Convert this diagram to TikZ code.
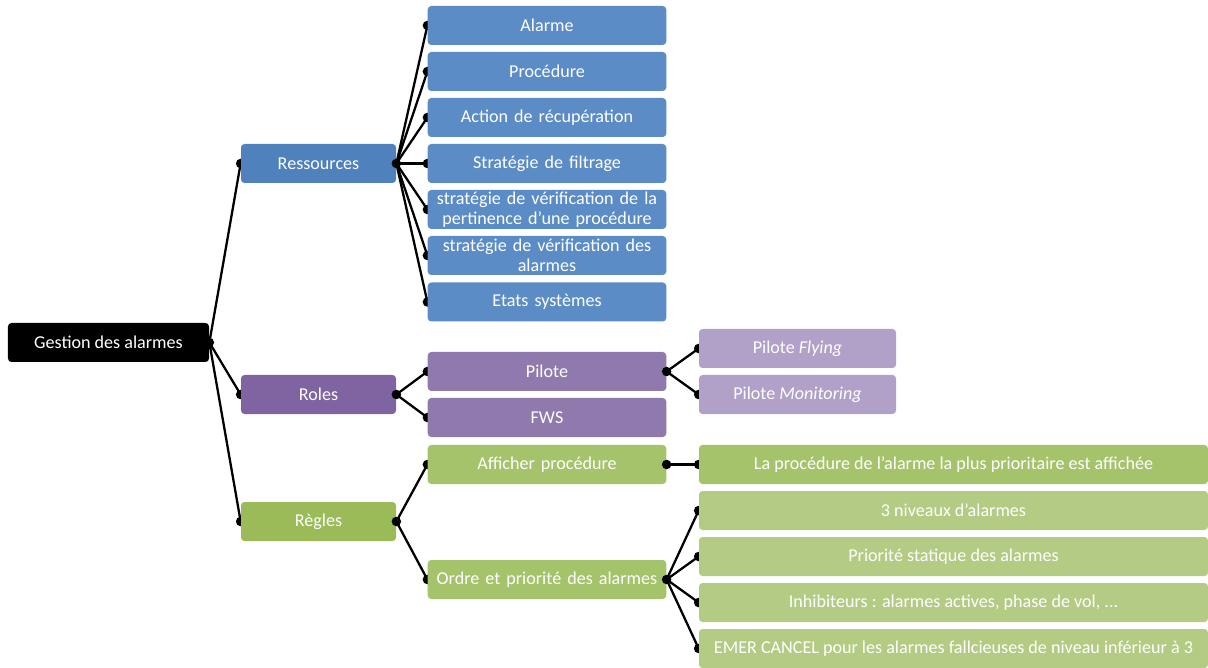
\documentclass[tikz,border=0pt]{standalone}
\usepackage{fontspec}
\setmainfont{Carlito}
\usepackage{xcolor}
\definecolor{resdark}{HTML}{4F81BD}
\definecolor{reslight}{HTML}{5B8CC6}
\definecolor{roldark}{HTML}{8064A2}
\definecolor{rolmid}{HTML}{9079AD}
\definecolor{rollight}{HTML}{B1A0C7}
\definecolor{regdark}{HTML}{9BBB59}
\definecolor{regmid}{HTML}{A5C36B}
\definecolor{reglight}{HTML}{B4CB84}
\usetikzlibrary{backgrounds}
\tikzset{
  box/.style={rounded corners=2pt,align=center,text=white,inner xsep=1pt,inner ysep=0pt,
    font=\fontsize{10.3}{11.2}\selectfont,minimum height=7.8mm},
  boxroot/.style={box,fill=black,minimum width=40.2mm},
  boxa/.style={box,minimum width=31mm},
  boxb/.style={box,minimum width=47.6mm,text width=47mm},
  boxc/.style={box,minimum width=39.4mm},
  boxd/.style={box,minimum width=101.8mm},
  link/.style={draw=black,line width=1.3pt},
  dot/.style={circle,fill=black,inner sep=0pt,minimum size=1.9mm},
}
\begin{document}
\begin{tikzpicture}[x=0.2mm,y=-0.2mm]
  \useasboundingbox (0,0) rectangle (1208,668);
  % root and first level
  \node[boxroot] (gest) at (108.5,342.5) {Gestion des alarmes};
  \node[boxa,fill=resdark] (res) at (318.5,163.5) {Ressources};
  \node[boxa,fill=roldark] (rol) at (318.5,394.5) {Roles};
  \node[boxa,fill=regdark] (reg) at (318.5,521.5) {Règles};
  % Ressources
  \node[boxb,fill=reslight] (alarme) at (547,25.5) {Alarme};
  \node[boxb,fill=reslight] (proc) at (547,71.5) {Procédure};
  \node[boxb,fill=reslight] (action) at (547,117.5) {Action de récupération};
  \node[boxb,fill=reslight] (filtre) at (547,163.5) {Stratégie de filtrage};
  \node[boxb,fill=reslight] (pert) at (547,209.5) {stratégie de vérification de la\\pertinence d'une procédure};
  \node[boxb,fill=reslight] (verif) at (547,255.5) {stratégie de vérification des\\alarmes};
  \node[boxb,fill=reslight] (etats) at (547,302) {Etats systèmes};
  % Roles
  \node[boxb,fill=rolmid] (pilote) at (547,371.5) {Pilote};
  \node[boxb,fill=rolmid] (fws) at (547,417.5) {FWS};
  \node[boxc,fill=rollight] (pf) at (797.5,348.5) {Pilote \textit{Flying}};
  \node[boxc,fill=rollight] (pm) at (797.5,394.5) {Pilote \textit{Monitoring}};
  % Regles
  \node[boxb,fill=regmid] (affp) at (547,464.5) {Afficher procédure};
  \node[boxb,fill=regmid] (ordre) at (547,579.5) {Ordre et priorité des alarmes};
  \node[boxd,fill=regmid] (aff) at (953.5,464.5) {La procédure de l'alarme la plus prioritaire est affichée};
  \node[boxd,fill=reglight] (niv) at (953.5,510.5) {3 niveaux d'alarmes};
  \node[boxd,fill=reglight] (stat) at (953.5,556.5) {Priorité statique des alarmes};
  \node[boxd,fill=reglight] (inhib) at (953.5,602.5) {Inhibiteurs : alarmes actives, phase de vol, ...};
  \node[boxd,fill=reglight] (emer) at (953.5,648.5) {EMER CANCEL pour les alarmes fallcieuses de niveau inférieur à 3};
  % connectors
  \begin{scope}[on background layer]
    \foreach \c in {res,rol,reg} \draw[link] (gest.east) -- (\c.west) node[dot]{};
    \foreach \c in {alarme,proc,action,filtre,pert,verif,etats} \draw[link] (res.east) -- (\c.west) node[dot]{};
    \foreach \c in {pilote,fws} \draw[link] (rol.east) -- (\c.west) node[dot]{};
    \foreach \c in {pf,pm} \draw[link] (pilote.east) -- (\c.west) node[dot]{};
    \foreach \c in {affp,ordre} \draw[link] (reg.east) -- (\c.west) node[dot]{};
    \draw[link] (affp.east) -- (aff.west) node[dot]{};
    \foreach \c in {niv,stat,inhib,emer} \draw[link] (ordre.east) -- (\c.west) node[dot]{};
  \end{scope}
  \foreach \p in {gest,res,rol,reg,pilote,affp,ordre} \node[dot] at (\p.east) {};
\end{tikzpicture}
\end{document}
